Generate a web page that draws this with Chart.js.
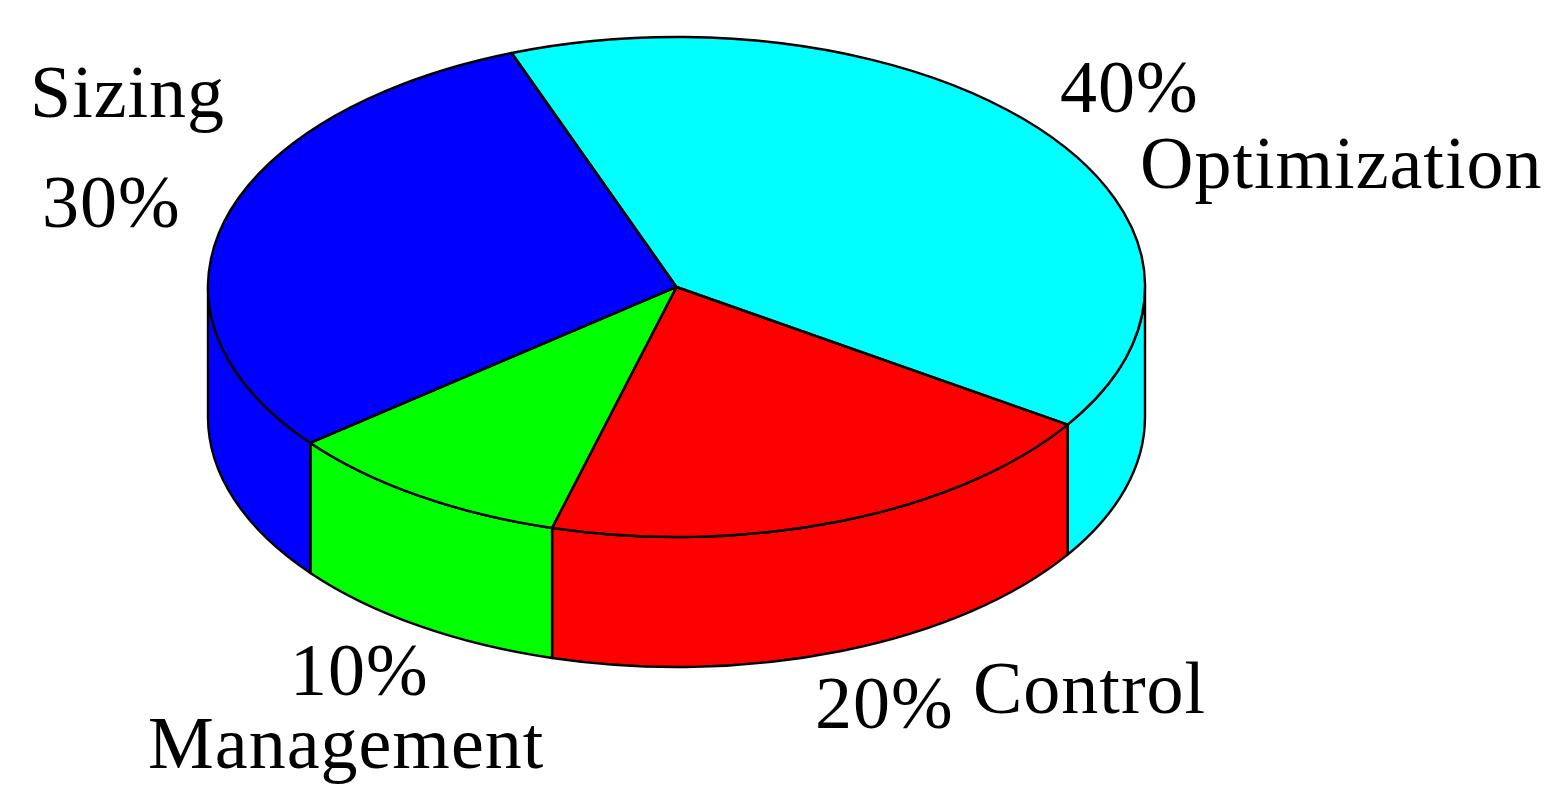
<!DOCTYPE html>
<html>
<head>
<meta charset="utf-8">
<script src="https://cdn.jsdelivr.net/npm/chart.js@4.4.1/dist/chart.umd.min.js"></script>
<style>
  html, body { margin: 0; padding: 0; background: #fff; overflow: hidden; }
  #wrap { width: 1563px; height: 803px; position: relative; }
</style>
</head>
<body>
<div id="wrap"><canvas id="pie"></canvas></div>
<script>
// data, in MATLAB pie3 order (clockwise from top-left)
const topics = ['Optimization', 'Control', 'Management', 'Sizing']
const shares = [40, 20, 10, 30]
const sliceColors = ['#00ffff', '#ff0000', '#00ff00', '#0000ff']

// where each text sits: [left x, baseline] for the name and for the percent
const labelSpots = [
  { name: [1140, 188], pct: [1060, 112] },
  { name: [973, 713], pct: [815, 728] },
  { name: [148, 768], pct: [290, 695] },
  { name: [30, 117], pct: [42, 227] }
]

const DEPTH = 130 // height of the cylinder wall
const EDGE = 2.4
const LABEL_FONT = '74px "Liberation Serif", "Times New Roman", serif'

const total = shares.reduce((s, v) => s + v, 0)
const pctText = shares.map(v => Math.round(v / total * 100) + '%')

function ellipseOf(chart) {
  const ca = chart.chartArea
  return {
    cx: (ca.left + ca.right) / 2,
    cy: (ca.top + ca.bottom) / 2,
    rx: (ca.right - ca.left) / 2,
    ry: (ca.bottom - ca.top) / 2
  }
}

// squash the library's round pie into the top of a cylinder and add the wall
const pie3d = {
  id: 'pie3d',
  beforeDatasetsDraw(chart) {
    const ctx = chart.ctx
    const arcs = chart.getDatasetMeta(0).data
    const { cx, cy, rx, ry } = ellipseOf(chart)

    ctx.save()
    ctx.lineWidth = EDGE
    ctx.strokeStyle = '#000'
    ctx.lineJoin = 'round'
    arcs.forEach((arc, i) => {
      // only the front half (0..PI) of the wall can be seen
      for (let k = -1; k <= 1; k++) {
        const s = Math.max(arc.startAngle, 2 * Math.PI * k)
        const e = Math.min(arc.endAngle, 2 * Math.PI * k + Math.PI)
        if (e <= s) continue
        ctx.beginPath()
        ctx.ellipse(cx, cy, rx, ry, 0, s, e)
        ctx.ellipse(cx, cy + DEPTH, rx, ry, 0, e, s, true)
        ctx.closePath()
        ctx.fillStyle = sliceColors[i]
        ctx.fill()
        ctx.stroke()
      }
    })
    ctx.restore()

    const r = arcs[0].outerRadius
    ctx.save()
    ctx.translate(cx, cy)
    ctx.scale(rx / r, ry / r)
    ctx.translate(-arcs[0].x, -arcs[0].y)
  },
  afterDatasetsDraw(chart) {
    const ctx = chart.ctx
    ctx.restore()

    const arcs = chart.getDatasetMeta(0).data
    const { cx, cy, rx, ry } = ellipseOf(chart)
    ctx.save()
    ctx.lineWidth = EDGE
    ctx.strokeStyle = '#000'
    ctx.lineJoin = 'round'
    arcs.forEach(arc => {
      ctx.beginPath()
      ctx.moveTo(cx, cy)
      ctx.ellipse(cx, cy, rx, ry, 0, arc.startAngle, arc.endAngle)
      ctx.closePath()
      ctx.stroke()
    })
    ctx.restore()
  },
  afterDraw(chart) {
    const ctx = chart.ctx
    ctx.save()
    ctx.font = LABEL_FONT
    ctx.letterSpacing = '1px'
    ctx.fillStyle = '#000'
    ctx.textAlign = 'left'
    ctx.textBaseline = 'alphabetic'
    topics.forEach((t, i) => {
      const spot = labelSpots[i]
      ctx.fillText(t, spot.name[0], spot.name[1])
      ctx.fillText(pctText[i], spot.pct[0], spot.pct[1])
    })
    ctx.restore()
  }
}

new Chart(document.getElementById('pie'), {
  type: 'pie',
  data: {
    labels: topics,
    datasets: [{
      data: shares,
      backgroundColor: sliceColors,
      borderWidth: 0,
      hoverOffset: 0,
      clip: false
    }]
  },
  options: {
    responsive: true,
    maintainAspectRatio: false,
    animation: false,
    rotation: -20.6,
    layout: { padding: { left: 208, right: 418, top: 37, bottom: 266 } },
    plugins: {
      legend: { display: false },
      tooltip: { enabled: false }
    },
    events: []
  },
  plugins: [pie3d]
})
</script>
</body>
</html>
